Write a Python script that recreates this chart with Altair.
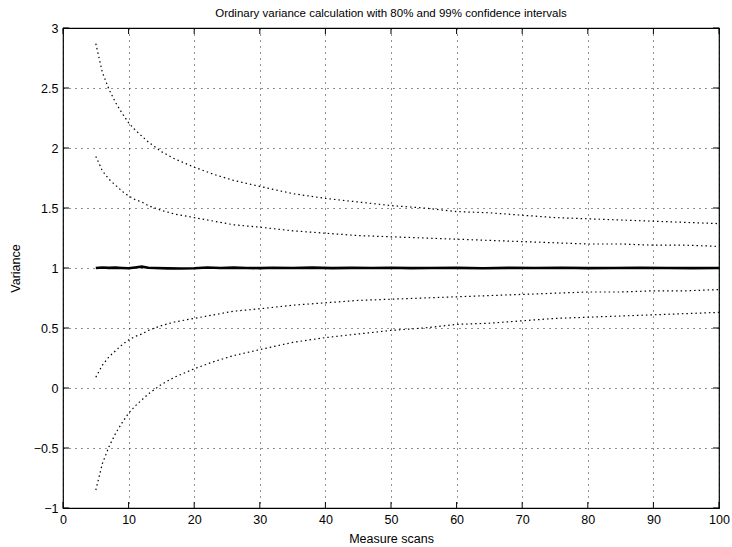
import altair as alt
import pandas as pd

# ---- data ----
n_bounds = [5, 6, 7, 8, 9, 10, 11, 12, 13, 14, 15, 17, 20, 23, 26, 30, 35, 40,
            45, 50, 55, 60, 65, 70, 75, 80, 85, 90, 95, 100]
upper99 = [2.87, 2.63, 2.49, 2.38, 2.29, 2.21, 2.15, 2.10, 2.05, 2.01, 1.97, 1.91,
           1.84, 1.78, 1.73, 1.68, 1.62, 1.58, 1.55, 1.52, 1.50, 1.47, 1.46, 1.44,
           1.42, 1.41, 1.40, 1.39, 1.38, 1.37]
upper80 = [1.93, 1.81, 1.74, 1.69, 1.64, 1.60, 1.57, 1.55, 1.52, 1.50, 1.48, 1.45,
           1.42, 1.39, 1.36, 1.34, 1.31, 1.29, 1.27, 1.26, 1.25, 1.24, 1.23, 1.22,
           1.21, 1.20, 1.20, 1.19, 1.19, 1.18]
lower80 = [0.09, 0.19, 0.26, 0.31, 0.36, 0.40, 0.43, 0.45, 0.48, 0.50, 0.52, 0.55,
           0.58, 0.61, 0.64, 0.66, 0.69, 0.71, 0.73, 0.74, 0.75, 0.76, 0.77, 0.78,
           0.79, 0.80, 0.80, 0.81, 0.81, 0.82]
lower99 = [-0.85, -0.63, -0.49, -0.38, -0.29, -0.21, -0.15, -0.10, -0.05, -0.01,
           0.03, 0.09, 0.16, 0.22, 0.27, 0.32, 0.38, 0.42, 0.45, 0.48, 0.50, 0.53,
           0.54, 0.56, 0.58, 0.59, 0.60, 0.61, 0.62, 0.63]

n_mean = [5, 6, 7, 8, 9, 10, 11, 12, 13, 14, 16, 18, 20, 22, 24, 26, 28, 30, 32,
          35, 38, 41, 44, 47, 50, 53, 56, 60, 64, 68, 72, 76, 80, 84, 88, 92, 96, 100]
mean_var = [1.000, 1.004, 1.001, 1.003, 1.000, 0.998, 1.004, 1.011, 1.002, 1.000,
            0.997, 0.996, 0.998, 1.004, 1.000, 1.003, 1.000, 0.999, 1.002, 1.000,
            1.003, 0.999, 1.001, 1.000, 1.002, 0.999, 1.000, 1.001, 0.998, 1.001,
            1.000, 1.002, 0.999, 1.000, 1.001, 1.000, 0.999, 1.000]

x_ticks = [0, 10, 20, 30, 40, 50, 60, 70, 80, 90, 100]
y_ticks = [-1, -0.5, 0, 0.5, 1, 1.5, 2, 2.5, 3]

TITLE = "Ordinary variance calculation with 80% and 99% confidence intervals"
X_TITLE = "Measure scans"
Y_TITLE = "Variance"

# ---- build tables ----
rows = []
for name, vals in [("upper99", upper99), ("upper80", upper80),
                   ("lower80", lower80), ("lower99", lower99)]:
    for n, v in zip(n_bounds, vals):
        rows.append({"n": n, "v": v, "series": name})
bounds = pd.DataFrame(rows)
mean_df = pd.DataFrame({"n": n_mean, "v": mean_var})
xt = pd.DataFrame({"n": x_ticks})
yt = pd.DataFrame({"v": y_ticks})
title_df = pd.DataFrame({"label": [TITLE]})

W, H = 656, 480
FONT = "Liberation Sans"
TL = 6
LFS = 12.5
LABEL_EXPR = "format(datum.value, '.1~f')"

xs = alt.Scale(domain=[0, 100], nice=False, zero=False)
ys = alt.Scale(domain=[-1, 3], nice=False, zero=False)

x_axis = alt.Axis(values=x_ticks, title=X_TITLE, grid=True, gridColor="black",
                  gridDash=[1, 5], gridOpacity=0.85, gridWidth=1, ticks=False,
                  domain=False, labelFont=FONT, labelFontSize=LFS, labelColor="black",
                  labelPadding=5, labelFlush=False, labelExpr=LABEL_EXPR,
                  titleFont=FONT, titleFontSize=LFS, titleFontWeight="normal",
                  titleColor="black", titleX=W / 2, titleY=34,
                  titleBaseline="alphabetic", titleAlign="center")
y_axis = alt.Axis(values=y_ticks, title=Y_TITLE, grid=True, gridColor="black",
                  gridDash=[1, 5], gridOpacity=0.85, gridWidth=1, ticks=False,
                  domain=False, labelFont=FONT, labelFontSize=LFS, labelColor="black",
                  labelPadding=5, labelFlush=False, labelExpr=LABEL_EXPR,
                  titleFont=FONT, titleFontSize=LFS, titleFontWeight="normal",
                  titleColor="black", titleX=-48, titleY=H / 2, titleAngle=270,
                  titleBaseline="middle", titleAlign="center")

X = alt.X("n:Q", scale=xs, axis=x_axis)
Y = alt.Y("v:Q", scale=ys, axis=y_axis)

bound_lines = alt.Chart(bounds).mark_line(
    color="black", strokeWidth=1.2, strokeDash=[1.5, 3]
).encode(x=X, y=Y, detail="series:N")

mean_line = alt.Chart(mean_df).mark_line(color="black", strokeWidth=2.6).encode(
    x=X, y=Y)

tick_b = alt.Chart(xt).mark_rule(color="black", strokeWidth=1).encode(
    x=X, y=alt.value(H), y2=alt.value(H - TL))
tick_t = alt.Chart(xt).mark_rule(color="black", strokeWidth=1).encode(
    x=X, y=alt.value(0), y2=alt.value(TL))
tick_l = alt.Chart(yt).mark_rule(color="black", strokeWidth=1).encode(
    y=Y, x=alt.value(0), x2=alt.value(TL))
tick_r = alt.Chart(yt).mark_rule(color="black", strokeWidth=1).encode(
    y=Y, x=alt.value(W), x2=alt.value(W - TL))

title_mark = alt.Chart(title_df).mark_text(
    font=FONT, fontSize=11.5, color="black", align="center",
    baseline="alphabetic", clip=False
).encode(text="label:N", x=alt.value(W / 2), y=alt.value(-11))

chart = alt.layer(bound_lines, mean_line, tick_b, tick_t, tick_l, tick_r,
                  title_mark).properties(
    width=W, height=H,
    autosize=alt.AutoSizeParams(type="none"),
    padding={"left": 63, "top": 28, "right": 13, "bottom": 39},
    background="white",
).configure_view(stroke="black", strokeWidth=1.2)

chart.save("out.html", embed_options={"renderer": "svg", "actions": False})
